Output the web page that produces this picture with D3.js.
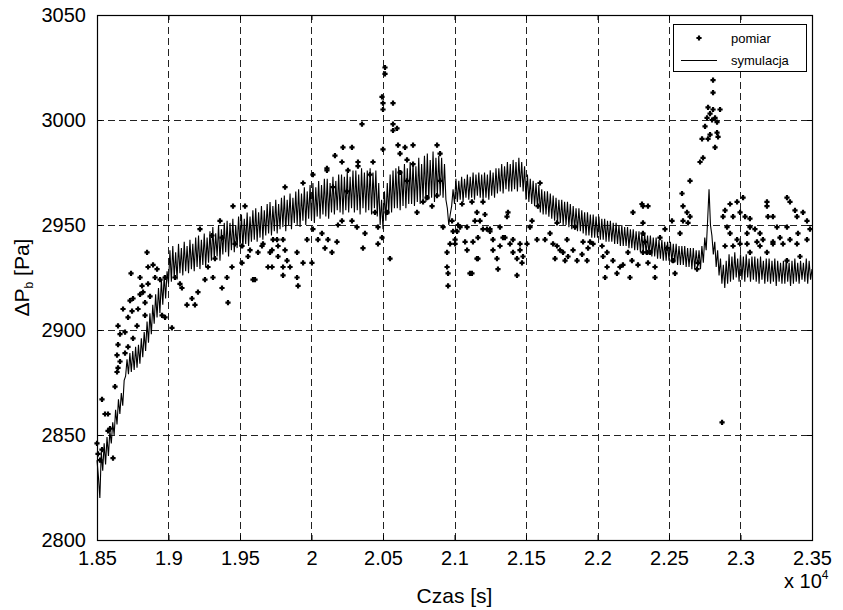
<!doctype html>
<html>
  <head>
    <meta charset="utf-8">
    <title>Spadek ciśnienia - pomiar i symulacja</title>
    <style>
      body { margin: 0; background: #fff; }
      svg text { font-family: "Liberation Sans", Arial, sans-serif; fill: #000; }
      .tick-label { font-size: 20px; }
      .axis-title { font-size: 21px; }
      .legend-text { font-size: 13px; }
    </style>
  </head>
  <body>
    <div id="chart"></div>

    <script src="https://d3js.org/d3.v7.min.js"></script>
    <script>
      // czas w jednostkach 10^4 s
      const xTicks = [1.85, 1.9, 1.95, 2, 2.05, 2.1, 2.15, 2.2, 2.25, 2.3, 2.35];
      const xTickLabels = ['1.85', '1.9', '1.95', '2', '2.05', '2.1', '2.15', '2.2', '2.25', '2.3', '2.35'];
      const yTicks = [2800, 2850, 2900, 2950, 3000, 3050];
      const yTickLabels = ['2800', '2850', '2900', '2950', '3000', '3050'];

      // symulacja: próbki co 0.001 (x10^4 s) od 1.85, jeden wiersz = 0.01
      const simStart = 1.85;
      const simStep = 0.001;
      const simValues = [
        2838, 2830, 2820, 2842, 2833, 2846, 2836, 2849, 2840, 2852,
        2846, 2856, 2850, 2862, 2855, 2867, 2860, 2870, 2864, 2876,
        2878, 2886, 2879, 2889, 2880, 2890, 2881, 2892, 2882, 2893,
        2884, 2896, 2887, 2899, 2890, 2904, 2894, 2908, 2898, 2912,
        2903, 2917, 2906, 2920, 2908, 2924, 2912, 2926, 2915, 2928,
        2922, 2938, 2923, 2940, 2925, 2937, 2924, 2941, 2927, 2939,
        2926, 2942, 2928, 2940, 2927, 2943, 2929, 2941, 2928, 2944,
        2930, 2945, 2929, 2943, 2931, 2946, 2930, 2944, 2932, 2947,
        2933, 2949, 2934, 2946, 2935, 2950, 2933, 2948, 2936, 2951,
        2937, 2952, 2935, 2951, 2938, 2953, 2937, 2950, 2939, 2954,
        2940, 2955, 2939, 2953, 2941, 2956, 2940, 2954, 2942, 2957,
        2943, 2958, 2942, 2956, 2944, 2959, 2943, 2957, 2945, 2960,
        2946, 2961, 2945, 2959, 2947, 2962, 2946, 2960, 2948, 2963,
        2949, 2964, 2947, 2962, 2950, 2965, 2948, 2963, 2951, 2966,
        2950, 2967, 2949, 2965, 2952, 2968, 2950, 2966, 2953, 2969,
        2952, 2970, 2951, 2968, 2954, 2971, 2953, 2969, 2955, 2972,
        2954, 2972, 2953, 2970, 2956, 2973, 2955, 2971, 2957, 2974,
        2956, 2974, 2955, 2973, 2957, 2975, 2956, 2973, 2958, 2976,
        2956, 2976, 2957, 2974, 2955, 2977, 2958, 2975, 2956, 2976,
        2957, 2977, 2955, 2975, 2958, 2976, 2954, 2970, 2950, 2962,
        2948, 2966, 2952, 2970, 2955, 2974, 2956, 2976, 2958, 2977,
        2958, 2978, 2957, 2976, 2959, 2979, 2958, 2977, 2960, 2980,
        2960, 2980, 2959, 2978, 2961, 2982, 2960, 2979, 2962, 2983,
        2961, 2984, 2962, 2981, 2963, 2985, 2961, 2982, 2964, 2983,
        2964, 2982, 2963, 2979, 2962, 2958, 2950, 2955, 2959, 2967,
        2960, 2972, 2961, 2971, 2962, 2973, 2961, 2972, 2963, 2974,
        2962, 2973, 2963, 2975, 2962, 2974, 2964, 2975, 2963, 2974,
        2962, 2975, 2963, 2974, 2962, 2976, 2964, 2975, 2963, 2977,
        2965, 2977, 2966, 2979, 2965, 2978, 2967, 2980, 2966, 2979,
        2966, 2981, 2967, 2980, 2966, 2982, 2968, 2980, 2966, 2978,
        2962, 2974, 2961, 2972, 2960, 2971, 2959, 2970, 2958, 2969,
        2956, 2967, 2955, 2966, 2955, 2966, 2954, 2965, 2953, 2964,
        2952, 2963, 2951, 2962, 2951, 2962, 2950, 2961, 2950, 2961,
        2949, 2960, 2948, 2959, 2948, 2958, 2947, 2958, 2947, 2957,
        2946, 2956, 2945, 2956, 2945, 2955, 2944, 2955, 2944, 2954,
        2944, 2954, 2943, 2953, 2943, 2953, 2942, 2952, 2942, 2952,
        2942, 2951, 2941, 2951, 2941, 2950, 2940, 2950, 2940, 2949,
        2940, 2949, 2939, 2948, 2939, 2948, 2938, 2947, 2938, 2947,
        2937, 2946, 2937, 2946, 2936, 2945, 2936, 2945, 2935, 2944,
        2935, 2944, 2934, 2943, 2934, 2943, 2933, 2942, 2933, 2942,
        2933, 2942, 2932, 2941, 2932, 2941, 2931, 2940, 2931, 2940,
        2931, 2940, 2930, 2939, 2930, 2939, 2929, 2939, 2929, 2938,
        2930, 2938, 2929, 2940, 2932, 2944, 2938, 2952, 2967, 2950,
        2945, 2936, 2942, 2930, 2938, 2926, 2934, 2922, 2931, 2920,
        2933, 2922, 2936, 2923, 2935, 2924, 2937, 2925, 2934, 2923,
        2936, 2924, 2935, 2923, 2936, 2925, 2934, 2923, 2935, 2924,
        2935, 2923, 2934, 2922, 2935, 2924, 2933, 2922, 2934, 2923,
        2934, 2922, 2933, 2923, 2934, 2921, 2933, 2923, 2932, 2922,
        2933, 2922, 2934, 2923, 2932, 2921, 2933, 2922, 2934, 2923,
        2932, 2922, 2933, 2924, 2932, 2923, 2934, 2922, 2933, 2924,
        2929
      ];

      // pomiar: [czas (x10^4 s), dP (Pa)]
      const pomiar = [
        [1.8500,2846],[1.8507,2841],[1.8521,2838],[1.8535,2867],[1.8535,2843],[1.8556,2860],[1.8577,2860],
        [1.8591,2853],[1.8577,2852],[1.8612,2839],[1.8626,2873],[1.8640,2880],[1.8647,2882],[1.8640,2888],
        [1.8647,2893],[1.8661,2898],[1.8647,2902],[1.8696,2899],[1.8717,2892],[1.8682,2910],[1.8717,2906],
        [1.8745,2909],[1.8731,2914],[1.8752,2915],[1.8738,2927],[1.8780,2902],[1.8787,2910],[1.8801,2917],
        [1.8815,2921],[1.8822,2918],[1.8836,2913],[1.8836,2907],[1.8850,2937],[1.8857,2922],[1.8871,2916],
        [1.8892,2931],[1.8906,2925],[1.8920,2929],[1.8941,2924],[1.8955,2907],[1.8976,2925],[1.8976,2906],
        [1.9024,2901],[1.8661,2885],[1.8696,2889],[1.8752,2896],[1.8801,2925],[1.8857,2930],
        [1.9045,2925],[1.9080,2922],[1.9094,2920],[1.9129,2912],[1.9185,2912],[1.9164,2915],[1.9206,2918],
        [1.9255,2924],[1.9311,2925],[1.9374,2920],[1.9416,2913],[1.9409,2925],[1.9444,2930],[1.9514,2932],
        [1.9605,2924],[1.9556,2935],[1.9626,2937],[1.9696,2930],[1.9654,2940],[1.9724,2938],[1.9325,2934],
        [1.9276,2930],[1.9465,2941],[1.9514,2940],[1.9374,2944],[1.9304,2945],[1.9451,2959],[1.9535,2959],
        [1.9360,2952],[1.9220,2948],[1.9661,2941],[1.9710,2937],[1.9759,2943],[1.9801,2930],[1.9591,2924],
        [1.9570,2938],[1.9731,2943],[1.9766,2940],[1.9801,2943],[1.9815,2938],[1.9829,2933],[1.9766,2935],
        [1.9724,2930],[1.9801,2926],[1.9850,2930],[1.9899,2937],[1.9906,2921],[1.9899,2925],[1.9941,2932],
        [1.9969,2943],[2.0003,2932],[2.0010,2948],[2.0045,2943],[2.0073,2946],[2.0094,2939],[2.0115,2943],
        [2.0178,2942],[2.0143,2937],[2.0185,2950],[2.0213,2952],[2.0283,2952],[2.0318,2949],[2.0360,2939],
        [2.0374,2946],[2.0465,2949],[2.0465,2941],
        [1.9815,2968],[1.9941,2970],[2.0010,2974],[2.0108,2976],[2.0164,2983],[2.0213,2980],[2.0255,2976],
        [2.0325,2980],[2.0325,2978],[2.0409,2974],[2.0430,2980],[2.0444,2956],[2.0248,2966],[2.0150,2968],
        [2.0353,2998],[2.0220,2987],[2.0283,2987],[2.0108,2977],
        [2.0514,3025],[2.0514,3022],[2.0493,3011],[2.0500,3008],[2.0500,3005],[2.0570,3008],[2.0570,2998],
        [2.0570,2995],[2.0598,2996],[2.0500,2986],[2.0605,2988],[2.0654,2987],[2.0710,2988],[2.0878,2988],
        [2.0619,2984],[2.0668,2981],[2.0710,2979],
        [2.0493,2944],[2.0549,2934],[2.0528,2956],[2.0619,2975],[2.0668,2971],[2.0738,2956],[2.0780,2961],
        [2.0808,2963],[2.0843,2959],[2.0878,2964],[2.0899,2971],[2.0899,2984],[2.0920,2949],[2.0948,2937],
        [2.0948,2930],[2.0955,2927],[2.0955,2921],[2.0969,2941],[2.0983,2952],[2.1004,2943],[2.1018,2947],
        [2.1053,2960],[2.1088,2949],[2.1074,2942],[2.1122,2927],[2.1157,2934],[2.1164,2944],[2.1178,2952],
        [2.1213,2955],[2.1227,2948],[2.1248,2947],[2.1269,2943],[2.1318,2940],[2.1339,2944],[2.1367,2954],
        [2.1409,2943],[2.1458,2938],
        [2.0990,2947],[2.1025,2950],[2.1004,2941],[2.1088,2938],[2.1129,2942],[2.1108,2927],[2.1039,2949],
        [2.1122,2961],[2.1157,2956],[2.1143,2952],[2.1164,2934],[2.1199,2961],[2.1199,2948],[2.1248,2948],
        [2.1269,2938],[2.1297,2934],[2.1304,2929],[2.1318,2949],[2.1353,2944],[2.1374,2956],[2.1388,2941],
        [2.1409,2937],[2.1437,2934],[2.1437,2926],[2.1458,2941],[2.1479,2935],[2.1472,2932],[2.1507,2941],
        [2.1528,2949],[2.1542,2952],[2.1577,2943],[2.1633,2943],[2.1584,2959],[2.1598,2970],[2.1668,2946],
        [2.1689,2941],[2.1717,2940],[2.1738,2938],[2.1703,2934],[2.1759,2937],[2.1787,2943],[2.1773,2933],
        [2.1794,2935],[2.1829,2938],[2.1857,2933],[2.1843,2949],[2.1717,2951],[2.1899,2942],[2.1934,2939],
        [2.1892,2936],[2.1927,2933],[2.1948,2942],[2.1969,2941],[2.2039,2935],[2.2032,2940],[2.2067,2937],
        [2.2053,2925],[2.2067,2930],[2.2108,2933],[2.2136,2927],[2.2157,2930],[2.2178,2931],[2.2227,2925],
        [2.2213,2937],[2.2241,2933],[2.2248,2956],[2.2311,2960],[2.2283,2931],[2.2346,2937],[2.2318,2951],
        [2.2318,2959],[2.2353,2959],[2.2318,2946],[2.2332,2942],[2.2367,2937],[2.2318,2937],[2.2353,2932],
        [2.2402,2930],[2.2402,2925],[2.2437,2944],[2.2472,2948],[2.2486,2939],[2.2521,2952],[2.2542,2927],
        [2.2528,2933],[2.2577,2946],[2.2598,2959],[2.2626,2956],[2.2647,2954],[2.2633,2951],[2.2598,2952],
        [2.2591,2965],[2.2647,2971],[2.2717,2980],[2.2738,2982],[2.2731,2991],[2.2773,2991],[2.2787,2993],
        [2.2822,2987],[2.2836,2994],[2.2843,2992],[2.2752,2997],[2.2766,3001],[2.2787,3003],[2.2822,3001],
        [2.2801,3000],[2.2773,3006],[2.2808,3005],[2.2857,3005],[2.2808,3013],[2.2808,3019],[2.2836,2999],
        [2.2696,2929],[2.2703,2932],[2.2871,2856],
        [2.2892,2957],[2.2927,2960],[2.2976,2961],[2.3018,2963],[2.2878,2954],[2.2906,2949],[2.2948,2954],
        [2.2997,2956],[2.3032,2954],[2.3066,2953],[2.3066,2949],[2.3101,2948],[2.3136,2946],[2.3185,2959],
        [2.3192,2954],[2.3227,2954],[2.3255,2949],[2.3325,2963],[2.3276,2944],[2.3325,2949],[2.3381,2957],
        [2.3395,2954],[2.3437,2956],[2.3465,2952],[2.3486,2948],[2.3402,2946],[2.3346,2943],[2.3227,2942],
        [2.3157,2943],[2.3115,2942],[2.3046,2946],[2.2976,2943],[2.2927,2946],[2.2892,2940],[2.2948,2940],
        [2.2997,2941],[2.3046,2941],[2.3136,2940],[2.3227,2941],[2.3297,2941],[2.3395,2941],[2.3465,2943],
        [2.3325,2933],[2.3416,2935],[2.3185,2937],[2.3066,2937],[2.3185,2961],[2.3346,2961]
      ];

      const legendLabels = ['pomiar', 'symulacja'];

      const width = 843;
      const height = 610;
      const plot = { left: 97, top: 15, right: 812, bottom: 540 };

      const x = d3.scaleLinear([1.85, 2.35], [plot.left, plot.right]);
      const y = d3.scaleLinear([2800, 3050], [plot.bottom, plot.top]);

      const plusPath = 'M-2.6,0H2.6M0,-2.6V2.6';

      function render() {
        const svg = d3.select('#chart')
          .append('svg')
          .attr('width', width)
          .attr('height', height)
          .attr('viewBox', [0, 0, width, height]);

        // siatka
        const grid = svg.append('g')
          .attr('stroke', '#222')
          .attr('stroke-width', 1)
          .attr('stroke-dasharray', '7,4');
        grid.selectAll('line.gx')
          .data(xTicks.slice(1, -1))
          .join('line')
          .attr('class', 'gx')
          .attr('x1', d => Math.round(x(d)) + 0.5)
          .attr('x2', d => Math.round(x(d)) + 0.5)
          .attr('y1', plot.bottom)
          .attr('y2', plot.top);
        grid.selectAll('line.gy')
          .data(yTicks.slice(1, -1))
          .join('line')
          .attr('class', 'gy')
          .attr('y1', d => Math.round(y(d)) + 0.5)
          .attr('y2', d => Math.round(y(d)) + 0.5)
          .attr('x1', plot.left)
          .attr('x2', plot.right);

        // symulacja
        const line = d3.line()
          .x((d, i) => x(simStart + i * simStep))
          .y(d => y(d));
        svg.append('path')
          .datum(simValues)
          .attr('fill', 'none')
          .attr('stroke', '#000')
          .attr('stroke-width', 1.1)
          .attr('stroke-linejoin', 'miter')
          .attr('stroke-miterlimit', 4)
          .attr('d', line);

        // pomiar
        svg.append('g')
          .selectAll('path')
          .data(pomiar)
          .join('path')
          .attr('transform', d => `translate(${x(d[0])},${y(d[1])})`)
          .attr('d', plusPath)
          .attr('stroke', '#000')
          .attr('stroke-width', 2.2);

        // osie
        const xAxis = d3.axisBottom(x)
          .tickValues(xTicks)
          .tickFormat((d, i) => xTickLabels[i])
          .tickSizeInner(-5)
          .tickSizeOuter(0)
          .tickPadding(11);
        const yAxis = d3.axisLeft(y)
          .tickValues(yTicks)
          .tickFormat((d, i) => yTickLabels[i])
          .tickSizeInner(-5)
          .tickSizeOuter(0)
          .tickPadding(11);

        const gx = svg.append('g')
          .attr('transform', `translate(0,${plot.bottom})`)
          .call(xAxis);
        const gy = svg.append('g')
          .attr('transform', `translate(${plot.left},0)`)
          .call(yAxis);
        svg.append('g')
          .attr('transform', `translate(0,${plot.top})`)
          .call(d3.axisTop(x).tickValues(xTicks).tickFormat('').tickSizeInner(-5).tickSizeOuter(0));
        svg.append('g')
          .attr('transform', `translate(${plot.right},0)`)
          .call(d3.axisRight(y).tickValues(yTicks).tickFormat('').tickSizeInner(-5).tickSizeOuter(0));

        svg.selectAll('.domain').remove();
        svg.selectAll('.tick line').attr('stroke', '#000');
        [gx, gy].forEach(g => g.selectAll('text')
          .attr('class', 'tick-label')
          .attr('font-family', null)
          .attr('font-size', null));

        svg.append('rect')
          .attr('x', plot.left + 0.5)
          .attr('y', plot.top + 0.5)
          .attr('width', plot.right - plot.left)
          .attr('height', plot.bottom - plot.top)
          .attr('fill', 'none')
          .attr('stroke', '#000')
          .attr('stroke-width', 1.2);

        // opisy osi
        svg.append('text')
          .attr('class', 'axis-title')
          .attr('x', (plot.left + plot.right) / 2)
          .attr('y', 603)
          .attr('text-anchor', 'middle')
          .text('Czas [s]');

        const mult = svg.append('text')
          .attr('class', 'tick-label')
          .attr('x', 784)
          .attr('y', 588);
        mult.append('tspan').text('x 10');
        mult.append('tspan').attr('font-size', 12).attr('dy', -9).text('4');

        const yl = svg.append('text')
          .attr('class', 'axis-title')
          .attr('transform', `translate(29,${(plot.top + plot.bottom) / 2}) rotate(-90)`)
          .attr('text-anchor', 'middle');
        yl.append('tspan').text('ΔP');
        yl.append('tspan').attr('font-size', 12).attr('dy', 4).text('b');
        yl.append('tspan').attr('dy', -4).text(' [Pa]');

        // legenda
        const legend = svg.append('g');
        legend.append('rect')
          .attr('x', 673.5)
          .attr('y', 24.5)
          .attr('width', 133)
          .attr('height', 47)
          .attr('fill', '#fff')
          .attr('stroke', '#000');
        legend.append('path')
          .attr('transform', 'translate(699,38)')
          .attr('d', plusPath)
          .attr('stroke', '#000')
          .attr('stroke-width', 2.2);
        legend.append('line')
          .attr('x1', 681).attr('x2', 717)
          .attr('y1', 60.5).attr('y2', 60.5)
          .attr('stroke', '#000');
        legend.selectAll('text')
          .data(legendLabels)
          .join('text')
          .attr('class', 'legend-text')
          .attr('x', 731)
          .attr('y', (d, i) => 43 + i * 22)
          .text(d => d);
      }

      render();
    </script>
  </body>
</html>
